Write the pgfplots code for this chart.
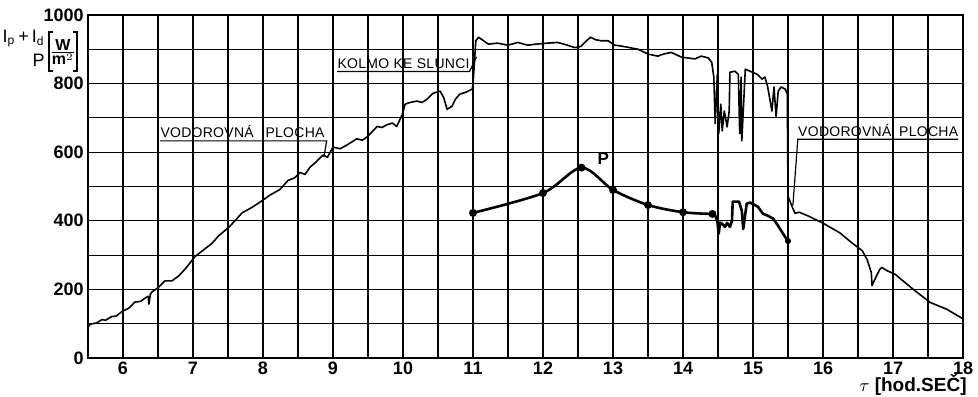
\documentclass[border=0pt]{standalone}
\usepackage{fontspec}
\setmainfont{Liberation Sans}
\newfontfamily\annfont[LetterSpace=2]{Liberation Sans}
\usepackage{pgfplots}
\pgfplotsset{compat=1.18}
\begin{document}
\begin{tikzpicture}
\begin{axis}[
  name=ax,
  scale only axis,
  width=437.5pt, height=171.5pt,
  xmin=5.5, xmax=18, ymin=0, ymax=1000,
  xtick={6,...,18},
  minor xtick={5.5,6.5,...,17.5},
  ytick={0,200,...,1000},
  minor ytick={100,300,...,900},
  grid=both,
  grid style={black, line width=0.6pt},
  minor grid style={black, line width=0.6pt},
  major tick length=0pt, minor tick length=0pt,
  axis line style={line width=1.1pt},
  /pgf/number format/assume math mode=true,
  /pgf/number format/1000 sep={},
  ticklabel style={font=\fontsize{9}{10}\selectfont\bfseries},
  xticklabel style={inner sep=1pt, yshift=-1pt},
  yticklabel style={inner sep=1pt, xshift=-1pt},
  clip=false,
]
\addplot[black, line width=0.8pt, line join=round] coordinates {
(5.50,90) (5.53,98) (5.56,100) (5.62,102) (5.70,112) (5.75,110) (5.84,121) (5.90,122)
(5.99,136) (6.08,145) (6.17,163) (6.25,165) (6.34,178) (6.36,180) (6.37,157) (6.39,185)
(6.41,192) (6.50,205) (6.60,225) (6.70,225) (6.80,240) (6.89,260) (7.03,296) (7.15,315)
(7.27,334) (7.36,355) (7.50,379) (7.60,400) (7.70,423) (7.85,440) (7.99,459) (8.10,475)
(8.24,491) (8.36,518) (8.45,525) (8.53,541) (8.60,535) (8.67,556) (8.75,570) (8.86,592)
(8.92,585) (9.00,615) (9.10,610) (9.20,621) (9.27,630) (9.34,639) (9.42,635) (9.49,645)
(9.56,660) (9.63,675) (9.70,672) (9.77,680) (9.85,685) (9.91,675) (9.99,710) (10.03,740)
(10.10,745) (10.20,749) (10.27,745) (10.34,754) (10.43,772) (10.53,778) (10.58,760)
(10.63,725) (10.70,734) (10.75,755) (10.81,769) (10.90,775) (10.99,784) (11.00,800)
(11.02,860) (11.04,925) (11.08,935) (11.15,925) (11.22,915) (11.35,918) (11.50,912)
(11.64,920) (11.78,912) (11.90,915) (12.07,918) (12.21,920) (12.35,912) (12.45,905)
(12.54,908) (12.62,925) (12.68,935) (12.75,928) (12.83,925) (12.93,925) (13.02,912)
(13.10,910) (13.21,906) (13.36,900) (13.50,886) (13.64,880) (13.72,886) (13.83,891)
(13.98,877) (14.17,872) (14.26,880) (14.36,875) (14.41,862) (14.44,819) (14.46,683)
(14.49,827) (14.51,654) (14.54,740) (14.56,662) (14.59,720) (14.63,674) (14.66,720)
(14.67,833) (14.74,836) (14.79,827) (14.81,654) (14.83,819) (14.84,633) (14.89,842)
(14.97,835) (15.06,827) (15.13,813) (15.17,819) (15.21,790) (15.27,720) (15.30,790)
(15.33,703) (15.36,778) (15.40,790) (15.46,784) (15.49,770) (15.50,471) (15.57,436)
(15.60,422) (15.66,425) (15.80,413) (16.00,393) (16.24,365) (16.41,336) (16.56,313)
(16.63,287) (16.69,249) (16.70,211) (16.74,229) (16.81,258) (16.84,264) (16.91,255)
(17.03,244) (17.29,200) (17.53,162) (17.77,142) (18.00,114)
};
\addplot[black, line width=1.3pt, smooth, mark=*, mark size=1.3pt] coordinates {
(11.0,423) (12.0,481) (12.55,555) (13.0,490) (13.5,446) (14.0,425) (14.42,420)
};
\addplot[black, line width=1.3pt, line join=round] coordinates {
(14.42,420) (14.46,415) (14.49,400) (14.51,362) (14.53,395) (14.56,391) (14.60,382)
(14.63,394) (14.67,382) (14.70,400) (14.71,456) (14.80,456) (14.84,429) (14.86,376)
(14.91,450) (14.96,453) (15.07,441) (15.14,421) (15.21,415) (15.29,406) (15.36,385)
(15.43,362) (15.50,341)
};
\addplot[black, only marks, mark=*, mark size=1.3pt] coordinates {(15.50,341)};
% annotations
\node[anchor=base west, inner sep=0pt, yshift=1.5pt] at (axis cs:6.53,633)
  {\fontsize{7}{8}\annfont\makebox[82pt][s]{VODOROVNÁ\hfill PLOCHA}};
\draw[line width=0.6pt] (axis cs:6.53,633) -- (axis cs:8.91,633) -- (axis cs:8.87,586);
\node[anchor=base west, inner sep=0pt, yshift=1.5pt] at (axis cs:9.06,835)
  {\fontsize{7}{8}\annfont\makebox[66pt][s]{KOLMO\hfill KE\hfill SLUNCI}};
\draw[line width=0.6pt] (axis cs:9.06,835) -- (axis cs:10.95,835) -- (axis cs:11.05,878);
\node[anchor=base west, inner sep=0pt, yshift=1.5pt] at (axis cs:15.64,638)
  {\fontsize{7}{8}\annfont\makebox[80pt][s]{VODOROVNÁ\hfill PLOCHA}};
\draw[line width=0.6pt] (axis cs:17.93,638) -- (axis cs:15.64,638) -- (axis cs:15.57,445);
\node[font=\fontsize{8.5}{9}\selectfont\bfseries] at (axis cs:12.86,580) {P};
% axis labels
\node[anchor=center, inner sep=0pt, xshift=-12.5pt] at (axis cs:5.5,893)
  {\fontsize{8}{9}\selectfont$\frac{\mbox{\bfseries W}}{\mbox{\bfseries m}^{2}}$};
\draw[line width=1pt] ([xshift=-17.5pt]axis cs:5.5,950) -- ([xshift=-19.5pt]axis cs:5.5,950)
  -- ([xshift=-19.5pt]axis cs:5.5,837) -- ([xshift=-17.5pt]axis cs:5.5,837);
\draw[line width=1pt] ([xshift=-7.5pt]axis cs:5.5,950) -- ([xshift=-5.5pt]axis cs:5.5,950)
  -- ([xshift=-5.5pt]axis cs:5.5,837) -- ([xshift=-7.5pt]axis cs:5.5,837);
\node[anchor=east, inner sep=0pt, xshift=-21.5pt] at (axis cs:5.5,930)
  {\fontsize{9}{9.5}\selectfont I\textsubscript{p}\,+\,I\textsubscript{d}};
\node[anchor=east, inner sep=0pt, xshift=-21.5pt] at (axis cs:5.5,868)
  {\fontsize{9}{9.5}\selectfont P};
\node[anchor=north east, inner sep=0pt, xshift=2pt, yshift=-8pt] at (rel axis cs:1,0)
  {\fontsize{9.5}{10}\selectfont\bfseries $\tau$ [hod.SEČ]};
\end{axis}
\pgfresetboundingbox
\path[use as bounding box] ([shift={(-44pt,-19pt)}]ax.south west) rectangle ([shift={(7.5pt,7.5pt)}]ax.north east);
\end{tikzpicture}
\end{document}
